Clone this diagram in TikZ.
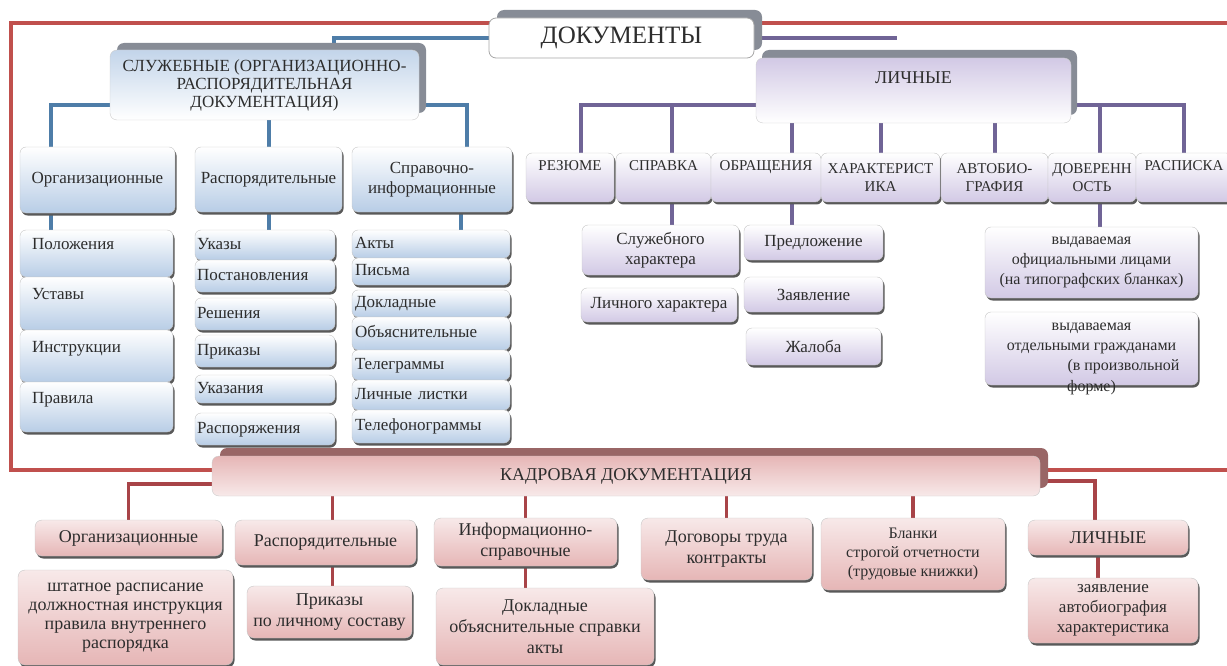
\documentclass[tikz,border=0pt]{standalone}
\usepackage{fontspec}
\setmainfont{Liberation Serif}
\usepackage{tikz}
\usetikzlibrary{positioning, calc, backgrounds, shadows}

\definecolor{frameRed}{RGB}{192, 80, 77}
\definecolor{kadrRed}{RGB}{168, 68, 72}
\definecolor{servBlue}{RGB}{78, 125, 168}
\definecolor{lichPurple}{RGB}{112, 100, 150}
\definecolor{fillBlue}{RGB}{184, 205, 230}
\definecolor{fillPurple}{RGB}{210, 201, 229}
\definecolor{fillPink}{RGB}{230, 182, 182}
\definecolor{shadeGray}{RGB}{135, 140, 150}
\definecolor{inkGray}{RGB}{45, 45, 45}

\newcommand{\docfont}{\fontsize{25}{28}\selectfont}
\newcommand{\capfont}{\fontsize{17}{18}\selectfont}
\newcommand{\itemfont}{\fontsize{17}{20}\selectfont}
\newcommand{\rowfont}{\fontsize{15}{18}\selectfont}
\newcommand{\kadrfont}{\fontsize{18}{21}\selectfont}

\tikzset{
  docbox/.style={rectangle, draw=gray!70, fill=white, thick,
                 align=center, rounded corners=7pt, font=\docfont, text=inkGray,
                 drop shadow={shadow xshift=8pt, shadow yshift=8pt, fill=shadeGray, opacity=1}},
  headB/.style={rectangle, draw=gray!40, top color=fillBlue!85, bottom color=white, thin,
                align=center, rounded corners=7pt, font=\capfont, text=inkGray,
                drop shadow={shadow xshift=7pt, shadow yshift=7pt, fill=shadeGray, opacity=1}},
  boxB/.style={rectangle, draw=gray!45, top color=white, bottom color=fillBlue, thin,
               align=center, rounded corners=6pt, font=\itemfont, text=inkGray,
               drop shadow={shadow xshift=1.5pt, shadow yshift=-2.5pt, fill=gray!70!black, opacity=1}},
  headP/.style={rectangle, draw=gray!40, top color=fillPurple, bottom color=white, thin,
                align=center, rounded corners=7pt, font=\kadrfont, text=inkGray,
                drop shadow={shadow xshift=6pt, shadow yshift=8pt, fill=shadeGray, opacity=1}},
  boxP/.style={rectangle, draw=gray!45, top color=white, bottom color=fillPurple, thin,
               align=center, rounded corners=6pt, font=\itemfont, text=inkGray,
               drop shadow={shadow xshift=1.5pt, shadow yshift=-2.5pt, fill=gray!70!black, opacity=1}},
  rowP/.style={rectangle, draw=gray!45, top color=white, bottom color=fillPurple, thin,
               minimum height=49pt, inner xsep=2pt,
               align=center, rounded corners=6pt, font=\rowfont, text=inkGray,
               drop shadow={shadow xshift=1.5pt, shadow yshift=-2.5pt, fill=gray!70!black, opacity=1}},
  headR/.style={rectangle, draw=gray!40, top color=fillPink, bottom color=fillPink!30, thin,
                align=center, rounded corners=7pt, font=\kadrfont, text=inkGray,
                drop shadow={shadow xshift=8pt, shadow yshift=8pt, fill=gray!80!red, opacity=1}},
  boxR/.style={rectangle, draw=gray!45, top color=fillPink!30, bottom color=fillPink, thin,
               align=center, rounded corners=7pt, font=\kadrfont, text=inkGray,
               drop shadow={shadow xshift=1.5pt, shadow yshift=-2.5pt, fill=gray!70!black, opacity=1}},
}

\begin{document}
\begin{tikzpicture}[
    x=1pt, y=-1pt,
    frameline/.style={draw=frameRed, line width=4pt},
    lineB/.style={draw=servBlue, line width=4pt},
    lineP/.style={draw=lichPurple, line width=4pt},
    lineR/.style={draw=kadrRed, line width=3.5pt},
    listL/.style={boxB, text width=129pt, inner xsep=12pt, align=left, text height=12pt, text depth=20pt},
    listM/.style={boxB, text width=136pt, inner xsep=2pt, align=left, text height=12pt, text depth=4pt},
    listR/.style={boxB, text width=152pt, inner xsep=3pt, align=left, text height=12pt, text depth=4pt},
    toptext/.style={text height=10pt, text depth=24pt},
  ]
    \useasboundingbox (0,0) rectangle (1227,666);

    % root
    \node[docbox, minimum width=265pt, minimum height=40pt] (doc) at (621.5,38) {ДОКУМЕНТЫ};

    % service documents
    \node[headB, minimum width=309pt, minimum height=70pt] (serv) at (264.5,85)
         {СЛУЖЕБНЫЕ (ОРГАНИЗАЦИОННО-\\РАСПОРЯДИТЕЛЬНАЯ\\ДОКУМЕНТАЦИЯ)};
    \node[boxB, minimum width=155pt, minimum height=66pt] (orgT) at (97.5,180) {Организационные};
    \node[boxB, minimum width=147pt, minimum height=65pt] (rasT) at (268.5,179.5) {Распорядительные};
    \node[boxB, minimum width=160pt, minimum height=65pt] (sprT) at (432,179.5) {Справочно-\\информационные};

    \node[listL, minimum height=47pt] (pol) at (96.5,253.5) {Положения};
    \node[listL, minimum height=53pt] (ust) at (96.5,303.5) {Уставы};
    \node[listL, minimum height=52pt] (ins) at (96.5,356) {Инструкции};
    \node[listL, minimum height=50pt] (pra) at (96.5,407) {Правила};

    \node[listM, minimum height=30pt] (ukazy) at (265,245) {Указы};
    \node[listM, minimum height=32pt] (post) at (265,276) {Постановления};
    \node[listM, minimum height=32pt] (resh) at (265,314) {Решения};
    \node[listM, minimum height=32pt] (prik) at (265,351) {Приказы};
    \node[listM, minimum height=28pt] (ukaz) at (265,389) {Указания};
    \node[listM, minimum height=32pt] (rasp) at (265,429) {Распоряжения};

    \node[listR, minimum height=28pt] (akty) at (431,244) {Акты};
    \node[listR, minimum height=27pt] (pism) at (431,271.5) {Письма};
    \node[listR, minimum height=27pt] (dokl) at (431,303.5) {Докладные};
    \node[listR, minimum height=33pt] (obya) at (431,333.5) {Объяснительные};
    \node[listR, minimum height=30pt] (tele) at (431,365) {Телеграммы};
    \node[listR, minimum height=30pt] (lili) at (431,395) {Личные листки};
    \node[listR, minimum height=33pt] (tfon) at (431,426.5) {Телефонограммы};

    % personal documents
    \node[headP, minimum width=315pt, minimum height=65pt, text height=13pt, text depth=26pt]
         (lich) at (913.5,90.5) {ЛИЧНЫЕ};
    \coordinate (lbar) at ([yshift=-15pt]lich.west);

    \node[rowP, toptext, minimum width=88pt] (rez) at (570,177.5) {РЕЗЮМЕ};
    \node[rowP, toptext, minimum width=95pt] (sprv) at (663.5,177.5) {СПРАВКА};
    \node[rowP, toptext, minimum width=110pt] (obr) at (766,177.5) {ОБРАЩЕНИЯ};
    \node[rowP, minimum width=119pt] (har) at (880.5,177.5) {ХАРАКТЕРИСТ\\ИКА};
    \node[rowP, minimum width=107pt] (avt) at (994.5,177.5) {АВТОБИО-\\ГРАФИЯ};
    \node[rowP, minimum width=88pt] (dov) at (1092,177.5) {ДОВЕРЕНН\\ОСТЬ};
    \node[rowP, toptext, minimum width=96pt] (rsp) at (1184,177.5) {РАСПИСКА};

    \node[boxP, minimum width=157pt, minimum height=50pt] (sluz) at (660.5,250) {Служебного\\характера};
    \node[boxP, minimum width=156pt, minimum height=34pt] (lhar) at (659,305) {Личного характера};
    \node[boxP, minimum width=139pt, minimum height=35pt] (pred) at (813.5,242.5) {Предложение};
    \node[boxP, minimum width=139pt, minimum height=35pt] (zayv) at (813.5,294.5) {Заявление};
    \node[boxP, minimum width=135pt, minimum height=37pt] (zhal) at (813.5,346.5) {Жалоба};
    \node[boxP, minimum width=213pt, minimum height=71pt, font=\fontsize{16}{20}\selectfont]
         (vyd1) at (1091.5,262.5) {выдаваемая\\официальными лицами\\(на типографских бланках)};
    \node[boxP, minimum width=213pt, minimum height=73pt, font=\fontsize{16}{20}\selectfont]
         (vyd2) at (1091.5,348.5)
         {выдаваемая\\отдельными гражданами\\\hspace*{4em}(в произвольной\\[-17pt]\smash{\raisebox{-18pt}{форме)}}};

    % personnel documents
    \node[headR, minimum width=828pt, minimum height=40pt] (kadr) at (626,476) {КАДРОВАЯ ДОКУМЕНТАЦИЯ};

    \node[boxR, minimum width=187pt, minimum height=36pt] (orgB) at (128.5,538) {Организационные};
    \node[boxR, minimum width=181pt, minimum height=45pt] (rasB) at (325.5,542.5) {Распорядительные};
    \node[boxR, minimum width=183pt, minimum height=48pt] (infB) at (525.5,542) {Информационно-\\справочные};
    \node[boxR, minimum width=171pt, minimum height=62pt] (dogB) at (726.5,549) {Договоры труда\\контракты};
    \node[boxR, minimum width=184pt, minimum height=72pt, font=\fontsize{16}{19}\selectfont]
         (blaB) at (913,554) {Бланки\\строгой отчетности\\(трудовые книжки)};
    \node[boxR, minimum width=160pt, minimum height=35pt] (lchB) at (1108,537.5) {ЛИЧНЫЕ};

    \node[boxR, minimum width=215pt, minimum height=95pt, font=\fontsize{18}{19}\selectfont]
         (shtB) at (125.5,617.5) {штатное расписание\\должностная инструкция\\правила внутреннего\\распорядка};
    \node[boxR, minimum width=165pt, minimum height=52pt] (prkB) at (329.5,612) {Приказы\\по личному составу};
    \node[boxR, minimum width=218pt, minimum height=77pt] (dokB) at (545,626.5) {Докладные\\объяснительные справки\\акты};
    \node[boxR, minimum width=170pt, minimum height=65pt, font=\fontsize{17}{20}\selectfont]
         (zayB) at (1113,610.5) {заявление\\автобиография\\характеристика};

    % connectors
    \coordinate (frameTR) at (1227,23);
    \coordinate (frameBL) at (11,470);
    \coordinate (frameBR) at (1227,470);

    \begin{scope}[on background layer]
      \draw[frameline] (frameTR) -| (frameBL) -- (frameBR);

      \draw[lineB] (doc.west) -| ([xshift=-85pt]serv.north east);
      \draw[lineB] ([xshift=-47pt]orgT.north) |- ([yshift=-20pt]serv.east) -| ([xshift=35pt]sprT.north);
      \draw[lineB] (rasT.north |- serv.south) -- (rasT.north);
      \draw[lineB] ([xshift=-47pt]orgT.south) -- ([xshift=-47pt]orgT.south |- pol.north);
      \draw[lineB] (rasT.south) -- (rasT.south |- ukazy.north);
      \draw[lineB] ([xshift=29pt]sprT.south) -- ([xshift=29pt]sprT.south |- akty.north);

      \draw[lineP] (doc.east) -- ([xshift=-17pt]lich.north |- doc.east);
      \draw[lineP] ([xshift=11pt]rez.north) |- (lbar);
      \draw[lineP] (rsp.north) |- (lich.east |- lbar);
      \draw[lineP] ([xshift=8pt]sprv.north) -- ([xshift=8pt]sprv.north |- lbar);
      \draw[lineP] ([xshift=26pt]obr.north) -- ([xshift=26pt]obr.north |- lich.south);
      \draw[lineP] (har.north) -- (har.north |- lich.south);
      \draw[lineP] (avt.north) -- (avt.north |- lich.south);
      \draw[lineP] ([xshift=8pt]dov.north) -- ([xshift=8pt]dov.north |- lbar);
      \draw[lineP] ([xshift=8pt]sprv.south) -- ([xshift=8pt]sprv.south |- sluz.north);
      \draw[lineP] ([xshift=26pt]obr.south) -- ([xshift=26pt]obr.south |- pred.north);
      \draw[lineP] ([xshift=8pt]dov.south) -- ([xshift=8pt]dov.south |- vyd1.north);

      \draw[lineR] ([yshift=-8pt]kadr.west) -| (orgB.north);
      \draw[lineR] ([xshift=7pt]rasB.north |- kadr.south) -- ([xshift=7pt]rasB.north);
      \draw[lineR] (infB.north |- kadr.south) -- (infB.north);
      \draw[lineR] (dogB.north |- kadr.south) -- (dogB.north);
      \draw[lineR] (blaB.north |- kadr.south) -- (blaB.north);
      \draw[lineR] ([yshift=-5pt]kadr.east) -| ([xshift=-13pt]lchB.north);
      \draw[lineR] ([xshift=7pt]rasB.south) -- ([xshift=7pt]rasB.south |- prkB.north);
      \draw[lineR] (infB.south) -- (infB.south |- dokB.north);
      \draw[lineR] ([xshift=-10pt]lchB.south) -- ([xshift=-10pt]lchB.south |- zayB.north);
    \end{scope}
  \end{tikzpicture}
\end{document}
